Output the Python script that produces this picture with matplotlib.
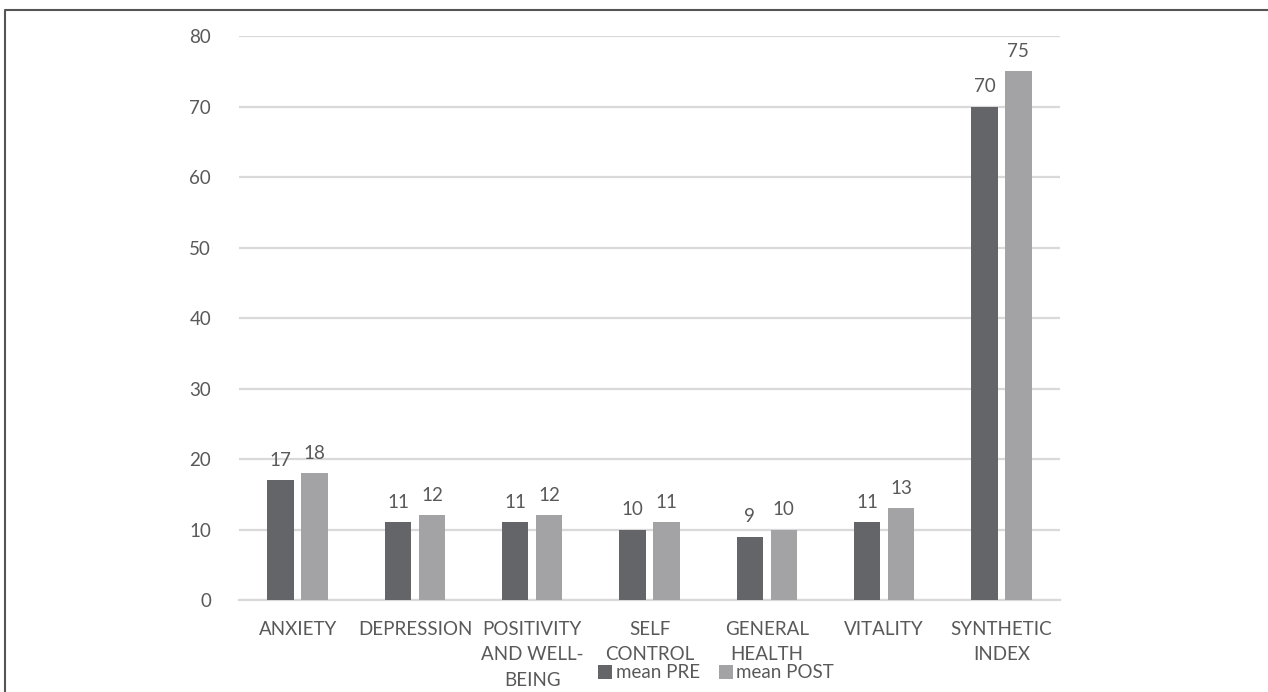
import matplotlib
matplotlib.use("Agg")
import matplotlib.pyplot as plt
from matplotlib.lines import Line2D
import numpy as np

# ========== DATA ==========
categories = ["ANXIETY", "DEPRESSION", "POSITIVITY\nAND WELL-\nBEING", "SELF\nCONTROL",
              "GENERAL\nHEALTH", "VITALITY", "SYNTHETIC\nINDEX"]
mean_pre = [17, 11, 11, 10, 9, 11, 70]
mean_post = [18, 12, 12, 11, 10, 13, 75]
series_names = ["mean PRE", "mean POST"]
y_ticks = [0, 10, 20, 30, 40, 50, 60, 70, 80]

# ========== STYLE ==========
PRE_COLOR = "#636569"
POST_COLOR = "#A3A3A6"
GRID_COLOR = "#D9D9D9"
TEXT_COLOR = "#595959"
plt.rcParams['font.family'] = ['Lato', 'DejaVu Sans']
FS = 13.5

fig = plt.figure(figsize=(12.68, 6.92), dpi=100)
ax = fig.add_axes([0.1885, 0.1329, 0.6475, 0.815])

x = np.arange(len(categories))
bw = 0.225
off = 0.145
bars_pre = ax.bar(x - off, mean_pre, bw, color=PRE_COLOR, label=series_names[0], zorder=3)
bars_post = ax.bar(x + off, mean_post, bw, color=POST_COLOR, label=series_names[1], zorder=3)

for bars in (bars_pre, bars_post):
    ax.bar_label(bars, padding=8, fontsize=FS, color=TEXT_COLOR)

ax.set_xlim(-0.5, len(categories) - 0.5)
ax.set_ylim(0, 80)
ax.set_yticks(y_ticks)
ax.set_xticks(x)
ax.set_xticklabels(categories, linespacing=1.6)
ax.tick_params(axis='y', length=0, pad=20, labelsize=FS, labelcolor=TEXT_COLOR)
ax.tick_params(axis='x', length=0, pad=15, labelsize=FS, labelcolor=TEXT_COLOR)
ax.yaxis.grid(True, color=GRID_COLOR, linewidth=1.6, zorder=0)
ax.set_axisbelow(True)
for s in ["top", "right", "left"]:
    ax.spines[s].set_visible(False)
ax.spines["bottom"].set_color(GRID_COLOR)
ax.spines["bottom"].set_linewidth(1.6)

# legend sits over the wrapped labels, like the original
fig.legend(handles=[bars_pre, bars_post], loc='center', bbox_to_anchor=(716 / 1268, 1 - 673 / 692),
           ncol=2, frameon=False, fontsize=FS, handlelength=0.75, handleheight=0.75,
           handletextpad=0.2, columnspacing=1.0, labelcolor=TEXT_COLOR,
           borderpad=0, borderaxespad=0)

# outer frame (left and top only visible)
fig.lines.append(Line2D([5 / 1268, 5 / 1268, 1.0], [0.0, 1 - 10 / 692, 1 - 10 / 692],
                        transform=fig.transFigure, color="#555555", linewidth=1.5))

plt.savefig("out.png", dpi=100)
plt.close()
